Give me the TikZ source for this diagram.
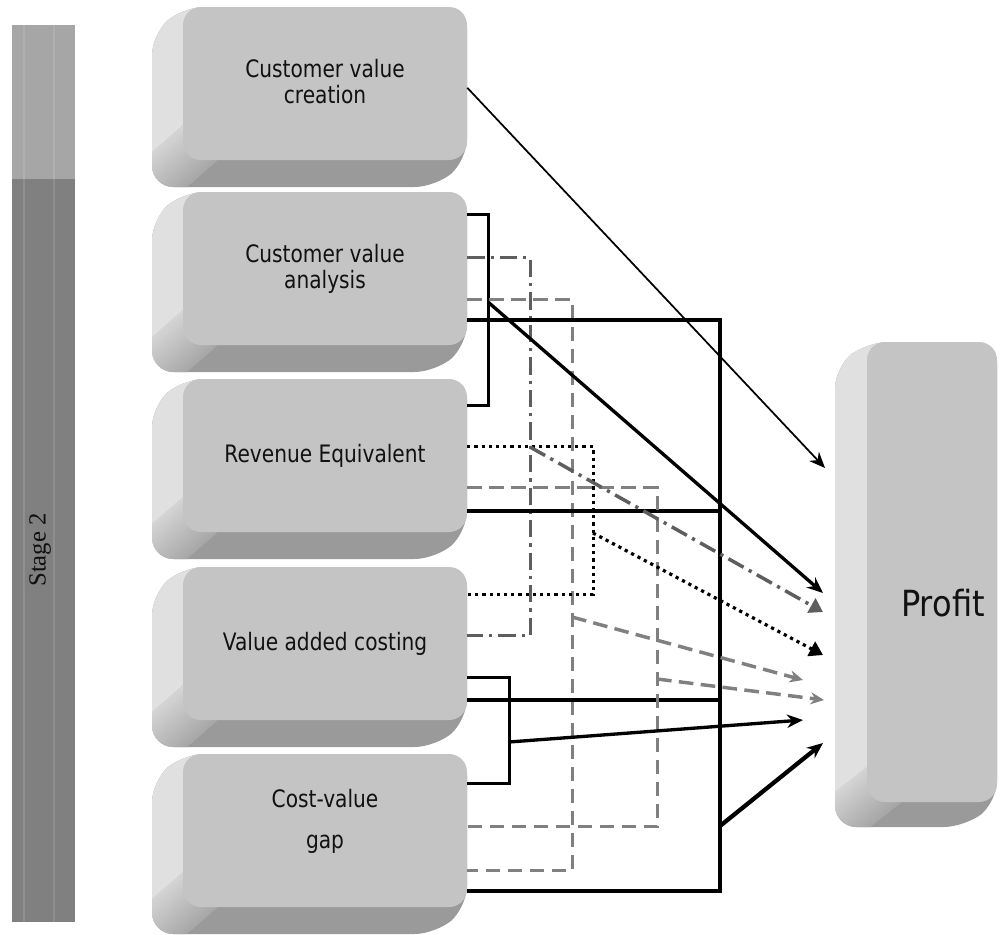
\documentclass[tikz,border=0pt]{standalone}
\usepackage{fontspec}
\setmainfont{DejaVu Sans}
\newfontfamily\boxfont{DejaVu Sans}[FakeStretch=0.84]
\newfontfamily\proffont{DejaVu Sans}[FakeStretch=0.89]
\newfontfamily\stagefont{Liberation Serif}
\usetikzlibrary{arrows.meta,calc}
\definecolor{facegray}{HTML}{C4C4C4}
\definecolor{leftgray}{HTML}{E0E0E0}
\definecolor{botgray}{HTML}{9A9A9A}
\definecolor{barlight}{HTML}{A6A6A6}
\definecolor{bardark}{HTML}{808080}
\definecolor{dashgray}{HTML}{808080}
\definecolor{dotdashgray}{HTML}{5E5E5E}
\definecolor{txt}{HTML}{111111}

% x1,y1,x2,y2 of the front face, dx,dy of the extrusion (pixels, y down)
\newcommand{\bevelsolid}[6]{%
\begin{scope}
\clip[rounded corners=16pt] ({(#1+#3)/2},#2) -- (#3,#2) -- (#3,#4) -- ({#3+#5},{#4+#6}) -- ({#1+#5},{#4+#6}) -- ({#1+#5},{#2+#6}) -- (#1,#2) -- cycle;
\fill[botgray] ({#1+#5-20},{#2-20}) rectangle ({#3+20},{#4+#6+20});
\fill[leftgray] ({#1+18},{#2-60}) -- ({#1-140},{#2-60}) -- ({#1+18+4.5*#5},{#4-18+4.5*#6}) -- ({#1+18},{#4-18}) -- cycle;
\shade[top color=leftgray, bottom color=botgray, shading angle=41.1]
 ({#1+18-16},{#4-18-19}) -- ({#1+18-16+1.4*#5},{#4-18-19+1.4*#6}) -- ({#1+18+16+1.4*#5},{#4-18+19+1.4*#6}) -- ({#1+18+16},{#4-18+19}) -- cycle;
\end{scope}}

\tikzset{
 face/.style={fill=facegray, rounded corners=13.5pt, minimum width=213pt, minimum height=114.75pt, inner sep=0pt},
 lbl/.style={font=\boxfont\fontsize{18}{19.5}\selectfont, text=txt, align=center, inner sep=0pt},
 thinln/.style={line width=1.3pt},
 brk/.style={line width=2.2pt},
 midln/.style={line width=2.5pt},
 thk/.style={line width=3.2pt},
 grayd/.style={draw=dashgray, line width=2.6pt, dash pattern=on 11pt off 5.5pt},
 dashdotln/.style={draw=dotdashgray, line width=2.6pt, dash pattern=on 13pt off 4.5pt on 2.4pt off 4.5pt},
 dotln/.style={line width=2.4pt, dash pattern=on 2.4pt off 3pt},
 blktip/.style={-{Stealth[length=12pt,width=10pt]}},
 smalltip/.style={-{Stealth[length=10pt,width=9pt]}},
 tritip/.style={-{Triangle[length=10pt,width=12pt]}},
}

\begin{document}
\begin{tikzpicture}[x=0.75pt,y=-0.75pt,line join=miter]
\useasboundingbox (0,0) rectangle (1000,935);
\fill[white] (0,0) rectangle (1000,935);

% stage bar
\fill[barlight] (12,25) rectangle (75,179);
\fill[bardark] (12,179) rectangle (75,922);
\draw[white,opacity=0.12,line width=0.8pt] (24,25) -- (24,922) (54,25) -- (54,922);
\node[rotate=90, font=\stagefont\fontsize{18.5}{20}\selectfont, text=txt!90!black, inner sep=0pt] (stage) at (40,550) {Stage 2};

% 3D boxes
\bevelsolid{183}{7}{467}{160}{-31}{27}
\bevelsolid{183}{192}{467}{345}{-31}{27}
\bevelsolid{183}{379}{467}{532}{-31}{27}
\bevelsolid{183}{567}{467}{720}{-31}{27}
\bevelsolid{183}{754}{467}{907}{-31}{27}
\bevelsolid{867}{342}{997}{802}{-32}{25}

\node[face] (b1) at (325,83.5) {};
\node[face] (b2) at (325,268.5) {};
\node[face] (b3) at (325,455.5) {};
\node[face] (b4) at (325,643.5) {};
\node[face] (b5) at (325,830.5) {};
\node[face, minimum width=97.5pt, minimum height=345pt] (p) at (932,572) {};

\node[lbl] (l1) at ($(b1.center)+(0,-2)$) {Customer value\\creation};
\node[lbl] (l2) at (b2.center) {Customer value\\analysis};
\node[lbl] (l3) at (b3.center) {Revenue Equivalent};
\node[lbl] (l4) at (b4.center) {Value added costing};
\node[lbl] (l5) at ($(b5.center)+(0,-9.5)$) {Cost-value\\[11.25pt]gap};
\node[font=\proffont\fontsize{27}{30}\selectfont, text=txt, inner sep=0pt] (lp) at (943,603) {Profit};

% arrow targets in front of Profit
\coordinate (t1) at (825,468);
\coordinate (t2) at (823,593);
\coordinate (t3) at (823,612);
\coordinate (t4) at (823,655);
\coordinate (t5) at (803,680);
\coordinate (t6) at (824,700);
\coordinate (t7) at (803,720);
\coordinate (t8) at (823,743);

% junction points on the vertical lines
\coordinate (j2) at (488,302);
\coordinate (j3) at (530,447);
\coordinate (j4) at (593,533);
\coordinate (j5) at (572,617);
\coordinate (j6) at (657,679);
\coordinate (j7) at (509,742);
\coordinate (j8) at (720,826);

% brackets
\draw[brk] ($(b2.north east)+(0,23)$) -| ($(b3.north east)+(21,27)$) -- ($(b3.north east)+(0,27)$);
\draw[dashdotln] ($(b2.north east)+(0,66)$) -| ($(b4.north east)+(63,69)$) -- ($(b4.north east)+(0,69)$);
\draw[grayd] ($(b2.north east)+(0,108)$) -| ($(b5.north east)+(105,117)$) -- ($(b5.north east)+(0,117)$);
\draw[thk] ($(b2.north east)+(0,128)$) -| ($(b5.north east)+(253,137)$) -- ($(b5.north east)+(0,137)$);
\draw[thk] ($(b3.north east)+(0,132)$) -- ($(b3.north east)+(253,132)$);
\draw[thk] ($(b4.north east)+(0,133)$) -- ($(b4.north east)+(253,133)$);
\draw[dotln] ($(b3.north east)+(0,68)$) -| ($(b4.north east)+(126,28)$) -- ($(b4.north east)+(0,28)$);
\draw[grayd] ($(b3.north east)+(0,109)$) -| ($(b5.north east)+(190,73)$) -- ($(b5.north east)+(0,73)$);
\draw[brk] ($(b4.north east)+(0,111)$) -| ($(b5.north east)+(42,30)$) -- ($(b5.north east)+(0,30)$);

% arrows to Profit
\draw[thinln, blktip] ($(b1.north east)+(0,81)$) -- (t1);
\draw[midln, blktip] (j2) -- (t2);
\draw[dashdotln, tritip] (j3) -- (t3);
\draw[dotln, tritip] (j4) -- (t4);
\draw[grayd, smalltip] (j5) -- (t5);
\draw[grayd, smalltip] (j6) -- (t6);
\draw[midln, blktip] (j7) -- (t7);
\draw[thk, blktip] (j8) -- (t8);
\end{tikzpicture}
\end{document}
